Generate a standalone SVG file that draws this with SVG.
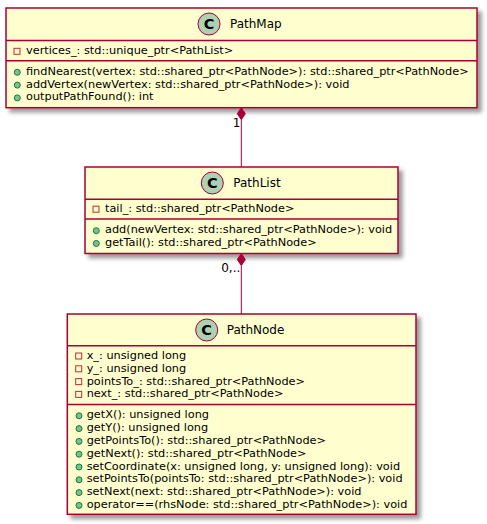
<svg xmlns="http://www.w3.org/2000/svg" width="487" height="524" viewBox="0 0 487 524">
<defs>
<filter id="sh" x="-1" y="-1" width="300%" height="300%">
<feGaussianBlur result="b1" stdDeviation="2"/>
<feColorMatrix in="b1" result="b2" type="matrix" values="0 0 0 0 0 0 0 0 0 0 0 0 0 0 0 0 0 0 .4 0"/>
<feOffset dx="4" dy="4" in="b2" result="b3"/>
<feBlend in="SourceGraphic" in2="b3" mode="normal"/>
</filter>
<symbol id="priv" overflow="visible"><rect x="0" y="0" width="6" height="6" fill="none" stroke="#C82930" stroke-width="1"/></symbol>
<symbol id="pub" overflow="visible"><circle cx="3" cy="3" r="3" fill="#84BE84" stroke="#038048" stroke-width="1"/></symbol>
</defs>
<style>
.box{fill:#FEFECE;stroke:#A80036;stroke-width:1.5}
.sep{stroke:#A80036;stroke-width:1.5}
.spot{fill:#ADD1B2;stroke:#A80036;stroke-width:1}
.c{font-family:"DejaVu Sans",sans-serif;font-size:14.5px;font-weight:bold;fill:#000;text-anchor:middle}
.t{font-family:"DejaVu Sans",sans-serif;font-size:12px;fill:#000}
.m{font-family:"DejaVu Sans",sans-serif;font-size:11.3px;fill:#000}
.lbl{font-family:"DejaVu Sans",sans-serif;font-size:12px;fill:#000;text-anchor:end}
.ln{stroke:#A80036;stroke-width:1;fill:none}
.dia{fill:#A80036;stroke:#A80036;stroke-width:1}
</style>
<g id="PathMap">
<rect class="box" x="6" y="8" width="471" height="99.7" filter="url(#sh)"/>
<circle class="spot" cx="209" cy="24" r="11"/>
<text class="c" x="209" y="29.2">C</text>
<text class="t" x="230" y="28.3">PathMap</text>
<line class="sep" x1="6" y1="40.5" x2="477" y2="40.5"/>
<use href="#priv" x="14" y="48.3"/>
<text class="m" x="26" y="54.3">vertices_: std::unique_ptr&lt;PathList&gt;</text>
<line class="sep" x1="6" y1="60.8" x2="477" y2="60.8"/>
<use href="#pub" x="14.3" y="69.3"/>
<text class="m" x="26" y="74.8">findNearest(vertex: std::shared_ptr&lt;PathNode&gt;): std::shared_ptr&lt;PathNode&gt;</text>
<use href="#pub" x="14.3" y="82.1"/>
<text class="m" x="26" y="87.6">addVertex(newVertex: std::shared_ptr&lt;PathNode&gt;): void</text>
<use href="#pub" x="14.3" y="94.9"/>
<text class="m" x="26" y="100.4">outputPathFound(): int</text>
</g>
<g id="PathList">
<rect class="box" x="85" y="167" width="313" height="86.5" filter="url(#sh)"/>
<circle class="spot" cx="212.3" cy="183" r="11"/>
<text class="c" x="212.3" y="188.2">C</text>
<text class="t" x="233.3" y="187.3">PathList</text>
<line class="sep" x1="85" y1="199.3" x2="398" y2="199.3"/>
<use href="#priv" x="93" y="206.2"/>
<text class="m" x="105" y="212.2">tail_: std::shared_ptr&lt;PathNode&gt;</text>
<line class="sep" x1="85" y1="219" x2="398" y2="219"/>
<use href="#pub" x="93.3" y="227.7"/>
<text class="m" x="105" y="233.2">add(newVertex: std::shared_ptr&lt;PathNode&gt;): void</text>
<use href="#pub" x="93.3" y="240.5"/>
<text class="m" x="105" y="246">getTail(): std::shared_ptr&lt;PathNode&gt;</text>
</g>
<g id="PathNode">
<rect class="box" x="67.3" y="314" width="348.7" height="200.3" filter="url(#sh)"/>
<circle class="spot" cx="206.7" cy="330" r="11"/>
<text class="c" x="206.7" y="335.2">C</text>
<text class="t" x="226.7" y="334.2">PathNode</text>
<line class="sep" x1="67.3" y1="345.7" x2="416" y2="345.7"/>
<use href="#priv" x="75.7" y="353"/>
<text class="m" x="86.7" y="359">x_: unsigned long</text>
<use href="#priv" x="75.7" y="365.8"/>
<text class="m" x="86.7" y="371.8">y_: unsigned long</text>
<use href="#priv" x="75.7" y="378.6"/>
<text class="m" x="86.7" y="384.6">pointsTo_: std::shared_ptr&lt;PathNode&gt;</text>
<use href="#priv" x="75.7" y="391.4"/>
<text class="m" x="86.7" y="397.4">next_: std::shared_ptr&lt;PathNode&gt;</text>
<line class="sep" x1="67.3" y1="404.5" x2="416" y2="404.5"/>
<use href="#pub" x="76" y="412.8"/>
<text class="m" x="86.7" y="418.3">getX(): unsigned long</text>
<use href="#pub" x="76" y="425.6"/>
<text class="m" x="86.7" y="431.1">getY(): unsigned long</text>
<use href="#pub" x="76" y="438.4"/>
<text class="m" x="86.7" y="443.9">getPointsTo(): std::shared_ptr&lt;PathNode&gt;</text>
<use href="#pub" x="76" y="451.2"/>
<text class="m" x="86.7" y="456.7">getNext(): std::shared_ptr&lt;PathNode&gt;</text>
<use href="#pub" x="76" y="464"/>
<text class="m" x="86.7" y="469.5">setCoordinate(x: unsigned long, y: unsigned long): void</text>
<use href="#pub" x="76" y="476.8"/>
<text class="m" x="86.7" y="482.3">setPointsTo(pointsTo: std::shared_ptr&lt;PathNode&gt;): void</text>
<use href="#pub" x="76" y="489.6"/>
<text class="m" x="86.7" y="495.1">setNext(next: std::shared_ptr&lt;PathNode&gt;): void</text>
<use href="#pub" x="76" y="502.4"/>
<text class="m" x="86.7" y="507.9">operator==(rhsNode: std::shared_ptr&lt;PathNode&gt;): void</text>
</g>
<g id="connectors">
<line class="ln" x1="241.3" y1="119.7" x2="241.3" y2="167"/>
<polygon class="dia" points="241.3,107.7 245.3,113.7 241.3,119.7 237.3,113.7"/>
<text class="lbl" x="240.3" y="126.7">1</text>
<line class="ln" x1="241.3" y1="265.5" x2="241.3" y2="314"/>
<polygon class="dia" points="241.3,253.5 245.3,259.5 241.3,265.5 237.3,259.5"/>
<text class="lbl" x="240.3" y="272.3">0,..</text>
</g>
</svg>
